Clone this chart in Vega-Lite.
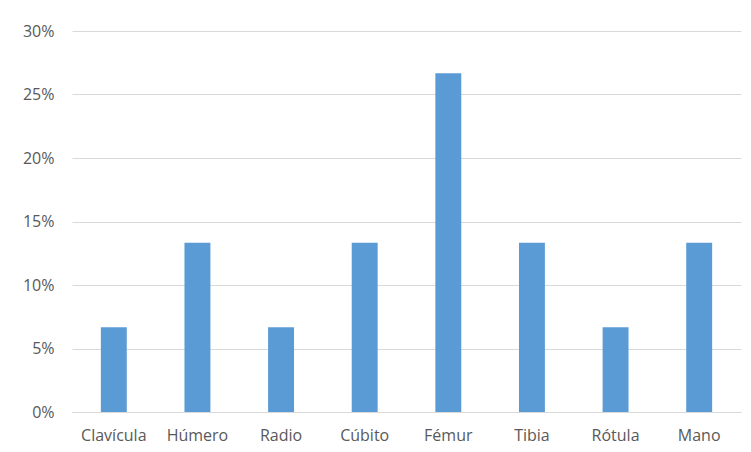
{
  "$schema": "https://vega.github.io/schema/vega-lite/v6.json",
  "width": 669,
  "height": 381,
  "autosize": "none",
  "padding": {"left": 72, "top": 31, "right": 10, "bottom": 40},
  "background": "white",
  "data": {"values": [
    {"hueso": "Clavícula", "pct": 0.0667},
    {"hueso": "Húmero", "pct": 0.1333},
    {"hueso": "Radio", "pct": 0.0667},
    {"hueso": "Cúbito", "pct": 0.1333},
    {"hueso": "Fémur", "pct": 0.2667},
    {"hueso": "Tibia", "pct": 0.1333},
    {"hueso": "Rótula", "pct": 0.0667},
    {"hueso": "Mano", "pct": 0.1333}
  ]},
  "mark": {"type": "bar", "color": "#5B9BD5"},
  "encoding": {
    "x": {"field": "hueso", "type": "nominal", "sort": null, "title": null,
      "scale": {"paddingInner": 0.69, "paddingOuter": 0.345},
      "axis": {"labelAngle": 0, "ticks": false, "domain": true, "domainColor": "#D9D9D9", "labelPadding": 15, "labelFontSize": 16, "labelColor": "#595959", "labelFont": "Open Sans"}},
    "y": {"field": "pct", "type": "quantitative", "title": null,
      "scale": {"domain": [0, 0.3], "nice": false},
      "axis": {"format": ".0%", "values": [0, 0.05, 0.1, 0.15, 0.2, 0.25, 0.3], "ticks": false, "domain": false, "gridColor": "#D9D9D9", "labelPadding": 18, "labelFontSize": 16, "labelColor": "#595959", "labelFont": "Open Sans"}}
  },
  "config": {"view": {"stroke": null}}
}
